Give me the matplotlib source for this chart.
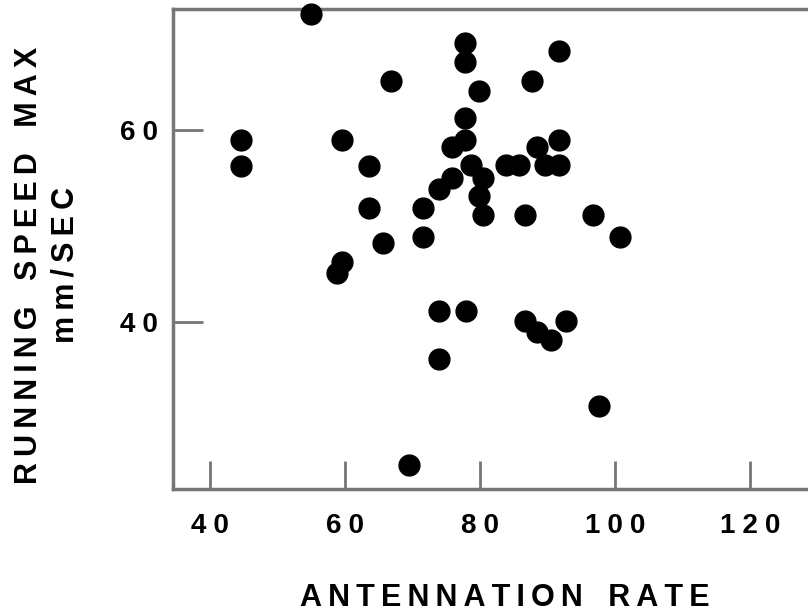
import matplotlib.pyplot as plt

## data

antennation = [54.9, 77.8, 77.8, 66.8, 79.9, 77.8, 44.6, 44.6, 59.6, 77.8, 75.8,
               63.6, 78.7, 75.8, 80.5, 73.9, 79.9, 63.6, 71.5, 80.5, 65.6, 71.5,
               91.7, 87.7, 91.7, 88.5, 83.8, 85.8, 89.7, 91.7, 86.6, 96.8, 100.8,
               59.5, 58.8, 73.9, 77.9, 73.9, 69.4, 86.6, 88.5, 90.5, 92.8, 97.6]
speed = [72.1, 69.1, 67.1, 65.1, 64.1, 61.2, 59.0, 56.2, 59.0, 59.0, 58.2,
         56.2, 56.3, 55.0, 55.0, 53.9, 53.1, 51.9, 51.9, 51.1, 48.2, 48.9,
         68.2, 65.1, 59.0, 58.2, 56.3, 56.3, 56.3, 56.3, 51.1, 51.1, 48.9,
         46.2, 45.1, 41.1, 41.1, 36.1, 25.1, 40.1, 39.0, 38.1, 40.1, 31.2]

xticks = [40, 60, 80, 100, 120]
yticks = [40, 60]


def spaced(s, gap="\u2005"):
    # letter-spaced look of the original
    return gap.join(s)


## plotting

plt.rcParams['font.family'] = ['Liberation Sans', 'DejaVu Sans']
plt.rcParams['font.weight'] = 'bold'

fig = plt.figure(figsize=(8.08, 6.15), dpi=100)
ax = fig.add_axes([173/808, 126/615, 1 - 173/808, (489-9)/615])

ax.scatter(antennation, speed, s=225, color='black', zorder=5, clip_on=False)

ax.set_xlim(34.5, 128.6)
ax.set_ylim(22.6, 72.6)

ax.set_xticks(xticks)
ax.set_xticklabels([spaced(str(t)) for t in xticks])
ax.set_yticks(yticks)
ax.set_yticklabels([spaced(str(t)) for t in yticks])

gray = '#767676'
for side in ['left', 'bottom', 'top']:
    ax.spines[side].set_color(gray)
    ax.spines[side].set_linewidth(2.5)
ax.spines['right'].set_visible(False)

ax.tick_params(axis='x', direction='in', length=20, width=2, color=gray,
               pad=17, labelsize=20)
ax.tick_params(axis='y', direction='in', length=21.5, width=2, color=gray,
               pad=11, labelsize=20)

g = "\u2009"
ax.set_xlabel(spaced("ANTENNATION", g) + "   " + spaced("RATE", g),
              fontsize=22, fontweight='bold')
ax.xaxis.set_label_coords((505 - 173) / (808 - 173), -(598 - 489) / 480,
                          transform=ax.transAxes)
ax.xaxis.label.set_va('center')

ylab = (spaced("RUNNING", g) + "   " + spaced("SPEED", g) + "   " + spaced("MAX", g)
        + "\n" + spaced("mm/SEC", g))
fig.text(47/808, 1 - 265/615, ylab,
         rotation=90, ha='center', va='center', multialignment='center',
         fontsize=22, fontweight='bold', linespacing=1.3)

plt.savefig("out.png", dpi=100)
